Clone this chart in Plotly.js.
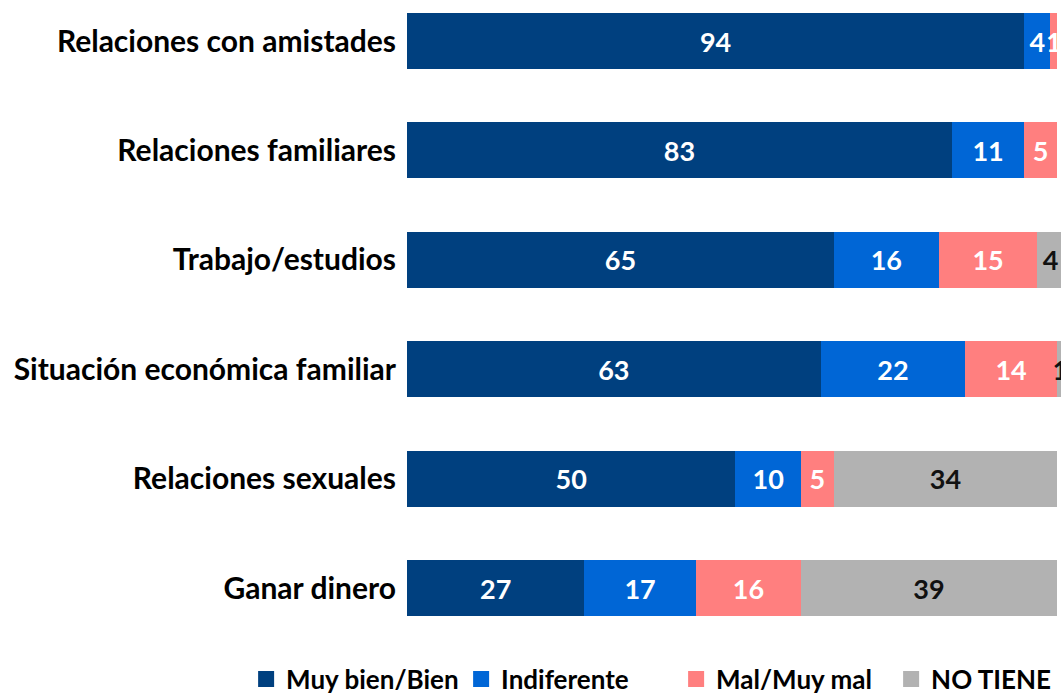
<!DOCTYPE html>
<html>
<head>
<meta charset="utf-8">
<script src="https://cdn.plot.ly/plotly-3.0.1.min.js"></script>
<style>html,body{margin:0;padding:0;background:#fff;}#chart{width:1061px;height:694px;}</style>
</head>
<body>
<div id="chart"></div>
<script>
const categories = ["Relaciones con amistades","Relaciones familiares","Trabajo/estudios","Situación económica familiar","Relaciones sexuales","Ganar dinero"];
const seriesNames = ["Muy bien/Bien","Indiferente","Mal/Muy mal","NO TIENE"];
const muyBien = [94,83,65,63,50,27];
const indiferente = [4,11,16,22,10,17];
const mal = [1,5,15,14,5,16];
const noTiene = [null,null,4,1,34,39];
const colors = ["#00407F","#0066D6","#FF7F7F","#B2B2B2"];
const textColors = ["#ffffff","#ffffff","#ffffff","#111111"];

const values = [muyBien, indiferente, mal, noTiene];
const traces = values.map((v,i)=>({
  type:'bar', orientation:'h', name: seriesNames[i],
  y: categories, x: v, showlegend:false,
  marker:{color:colors[i], line:{width:0}},
  texttemplate:'%{x}', textposition:'inside', insidetextanchor:'middle',
  textfont:{family:'Lato, sans-serif', size:27, color:textColors[i], weight:700},
  hoverinfo:'skip'
}));
// legend entries (square swatches), no data drawn
seriesNames.forEach((n,i)=>traces.push({
  type:'scatter', mode:'markers', name:n, x:[null], y:[null],
  marker:{symbol:'square', size:22, color:colors[i]}, hoverinfo:'skip', showlegend:true
}));

const layout = {
  width:1061, height:694,
  margin:{l:407, r:0, t:0, b:54, pad:0, autoexpand:false},
  barmode:'stack', bargap:0.488,
  paper_bgcolor:'#fff', plot_bgcolor:'#fff',
  showlegend:true,
  uniformtext:{mode:'show', minsize:27},
  xaxis:{range:[0,99.6], showticklabels:false, showgrid:false, zeroline:false, showline:false, fixedrange:true},
  yaxis:{type:'category', categoryarray:categories, range:[5.475,-0.375], showgrid:false, zeroline:false, showline:false,
         ticks:'', ticklabelstandoff:10,
         tickfont:{family:'Lato, sans-serif', size:30, color:'#000', weight:700}},
  legend:{orientation:'h', xref:'paper', yref:'paper', x:-0.246, xanchor:'left', y:-0.061, yanchor:'middle',
          entrywidth:170, itemsizing:'trace',
          font:{family:'Lato, sans-serif', size:26, color:'#000', weight:700},
          traceorder:'normal', itemclick:false}
};
Plotly.newPlot('chart', traces, layout, {displayModeBar:false, staticPlot:true});
</script>
</body>
</html>
